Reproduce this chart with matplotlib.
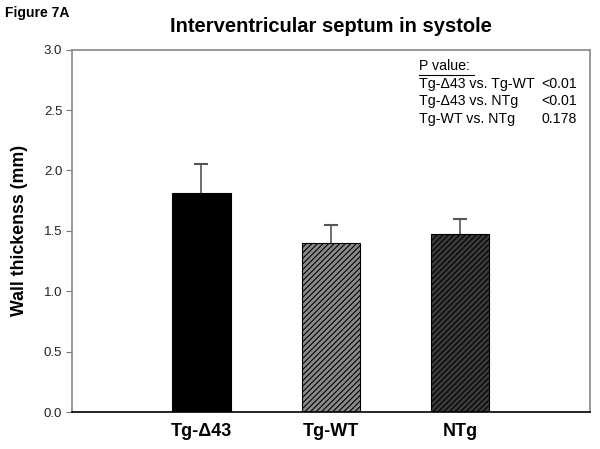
import matplotlib
matplotlib.use('Agg')
import matplotlib.pyplot as plt

plt.rcParams['font.family'] = ['Liberation Sans', 'DejaVu Sans']
plt.rcParams['hatch.linewidth'] = 0.8

groups = ['Tg-Δ43', 'Tg-WT', 'NTg']
means = [1.81, 1.40, 1.47]
errs = [0.24, 0.15, 0.13]
face = ['#000000', '#8a8a8a', '#3a3a3a']
hatches = ['', '//////', '//////']

pv_labels = ['Tg-Δ43 vs. Tg-WT', 'Tg-Δ43 vs. NTg', 'Tg-WT vs. NTg']
pv_values = ['<0.01', '<0.01', '0.178']

fig = plt.figure(figsize=(6, 4.49), dpi=100)
ax = fig.add_axes([0.12, 0.0824, 0.863, 0.807])

x = list(range(len(groups)))
for i in x:
    ax.bar(i, means[i], width=0.45, color=face[i], edgecolor='black',
           hatch=hatches[i], linewidth=0.8, zorder=2)
    eb = ax.errorbar(i, means[i], yerr=[[0], [errs[i]]], fmt='none',
                     ecolor='#555555', elinewidth=1.2, capsize=5,
                     capthick=1.5, zorder=1)
    # hide the cap sitting on top of the bar
    for cap in eb[1]:
        if abs(cap.get_ydata()[0] - means[i]) < 1e-9:
            cap.set_visible(False)

ax.set_xlim(-1, 3)
ax.set_ylim(0, 3.0)
ax.set_yticks([0, 0.5, 1.0, 1.5, 2.0, 2.5, 3.0])
ax.set_yticklabels(['0.0', '0.5', '1.0', '1.5', '2.0', '2.5', '3.0'],
                   fontsize=9.5, color='#222222')
ax.set_xticks(x)
ax.set_xticklabels(groups, fontsize=13, fontweight='bold')
ax.tick_params(axis='x', length=0, pad=8)
ax.tick_params(axis='y', direction='out', length=4, color='#777777', pad=3)

for side in ['top', 'right', 'left']:
    ax.spines[side].set_color('#888888')
    ax.spines[side].set_linewidth(1.2)
ax.spines['bottom'].set_color('black')
ax.spines['bottom'].set_linewidth(1.2)

ax.set_ylabel('Wall thickenss (mm)', fontsize=12.8, fontweight='bold',
              labelpad=11)
ax.set_title('Interventricular septum in systole', fontsize=14.5,
             fontweight='bold', pad=12.5)
fig.text(0.008, 0.962, 'Figure 7A', fontsize=10, fontweight='bold')

# p-value box
ax.text(0.67, 0.955, 'P value:', transform=ax.transAxes, fontsize=10.2,
        va='center', ha='left')
ax.plot([0.67, 0.776], [0.929, 0.929], transform=ax.transAxes,
        color='black', linewidth=0.8)
for k in range(len(pv_labels)):
    yy = 0.905 - k * 0.048
    ax.text(0.67, yy, pv_labels[k], transform=ax.transAxes, fontsize=10.2,
            va='center', ha='left')
    ax.text(0.975, yy, pv_values[k], transform=ax.transAxes, fontsize=10.2,
            va='center', ha='right')

fig.savefig('out.png', dpi=100)
